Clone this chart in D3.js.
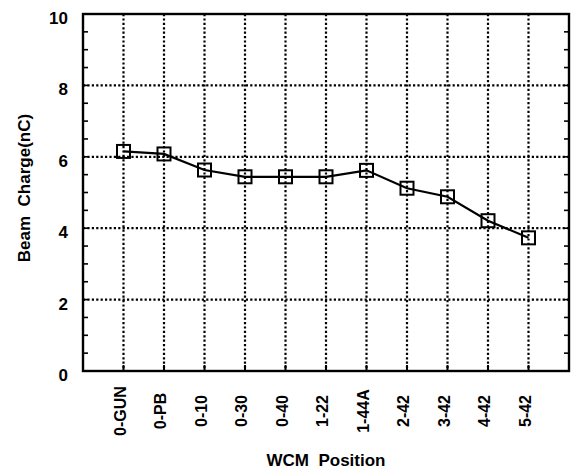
<!DOCTYPE html>
<html>
<head>
<meta charset="utf-8">
<script src="https://cdn.jsdelivr.net/npm/d3@7"></script>
<style>
  html, body { margin: 0; padding: 0; background: #fff; }
  svg { display: block; }
  text { font-family: "Liberation Sans", Arial, Helvetica, sans-serif; fill: #000; }
</style>
</head>
<body>
<svg id="chart" width="576" height="470"></svg>
<script>
// Wall current monitor positions along the beamline
const positions = ["0-GUN", "0-PB", "0-10", "0-30", "0-40", "1-22", "1-44A", "2-42", "3-42", "4-42", "5-42"];
// Measured beam charge at each position (nC)
const charge = [6.15, 6.08, 5.63, 5.44, 5.44, 5.44, 5.62, 5.12, 4.88, 4.21, 3.73];
// Y axis labelled ticks and gridlines
const yTicks = [0, 2, 4, 6, 8, 10];
const yGrid = [2, 4, 6, 8];
const yMinor = d3.range(0.5, 10, 0.5);

const svg = d3.select("#chart");
const plotL = 83, plotR = 569, plotT = 14, plotB = 371;

const x = d3.scalePoint().domain(positions).range([plotL, plotR]).padding(1);
const y = d3.scaleLinear().domain([0, 10]).range([plotB, plotT]);

const dots = "2.2,2.2";

// dotted gridlines
svg.append("g").selectAll("line").data(yGrid).join("line")
  .attr("x1", plotL).attr("x2", plotR)
  .attr("y1", d => y(d)).attr("y2", d => y(d))
  .attr("stroke", "#000").attr("stroke-width", 2.2).attr("stroke-dasharray", dots);

svg.append("g").selectAll("line").data(positions).join("line")
  .attr("x1", d => x(d)).attr("x2", d => x(d))
  .attr("y1", plotT).attr("y2", plotB)
  .attr("stroke", "#000").attr("stroke-width", 2.2).attr("stroke-dasharray", dots);

// minor ticks on left and right edges, pointing inward
const tickLen = 5;
svg.append("g").selectAll("line").data(yMinor).join("line")
  .attr("x1", plotL).attr("x2", plotL + tickLen)
  .attr("y1", d => y(d)).attr("y2", d => y(d))
  .attr("stroke", "#000").attr("stroke-width", 1.6);
svg.append("g").selectAll("line").data(yMinor).join("line")
  .attr("x1", plotR).attr("x2", plotR - tickLen)
  .attr("y1", d => y(d)).attr("y2", d => y(d))
  .attr("stroke", "#000").attr("stroke-width", 1.6);

// category ticks on the bottom edge
svg.append("g").selectAll("line").data(positions).join("line")
  .attr("x1", d => x(d)).attr("x2", d => x(d))
  .attr("y1", plotB).attr("y2", plotB - 6)
  .attr("stroke", "#000").attr("stroke-width", 2);

// frame
svg.append("rect")
  .attr("x", plotL).attr("y", plotT)
  .attr("width", plotR - plotL).attr("height", plotB - plotT)
  .attr("fill", "none").attr("stroke", "#000").attr("stroke-width", 2.4);

// y tick labels
svg.append("g").selectAll("text").data(yTicks).join("text")
  .attr("x", 68).attr("y", d => y(d) + 10)
  .attr("text-anchor", "end")
  .attr("font-size", 17).attr("font-weight", "bold")
  .text(d => d);

// x tick labels, rotated
svg.append("g").selectAll("text").data(positions).join("text")
  .attr("transform", d => `translate(${x(d) + 2},411) rotate(-90)`)
  .attr("text-anchor", "middle")
  .attr("font-size", 16).attr("font-weight", "bold")
  .text(d => d);

// axis titles
svg.append("text")
  .attr("x", (plotL + plotR) / 2).attr("y", 466)
  .attr("text-anchor", "middle")
  .attr("font-size", 17).attr("font-weight", "bold")
  .style("white-space", "pre")
  .text("WCM  Position");

svg.append("text")
  .attr("transform", "translate(30,188) rotate(-90)")
  .attr("text-anchor", "middle")
  .attr("font-size", 17).attr("font-weight", "bold")
  .style("white-space", "pre")
  .text("Beam  Charge(nC)");

// data line and hollow square markers
const line = d3.line().x((d, i) => x(positions[i])).y(d => y(d));
svg.append("path").datum(charge)
  .attr("d", line)
  .attr("fill", "none").attr("stroke", "#000").attr("stroke-width", 2.2);

const s = 13;
svg.append("g").selectAll("rect").data(charge).join("rect")
  .attr("x", (d, i) => x(positions[i]) - s / 2)
  .attr("y", d => y(d) - s / 2)
  .attr("width", s).attr("height", s)
  .attr("fill", "none").attr("stroke", "#000").attr("stroke-width", 2);
</script>
</body>
</html>
